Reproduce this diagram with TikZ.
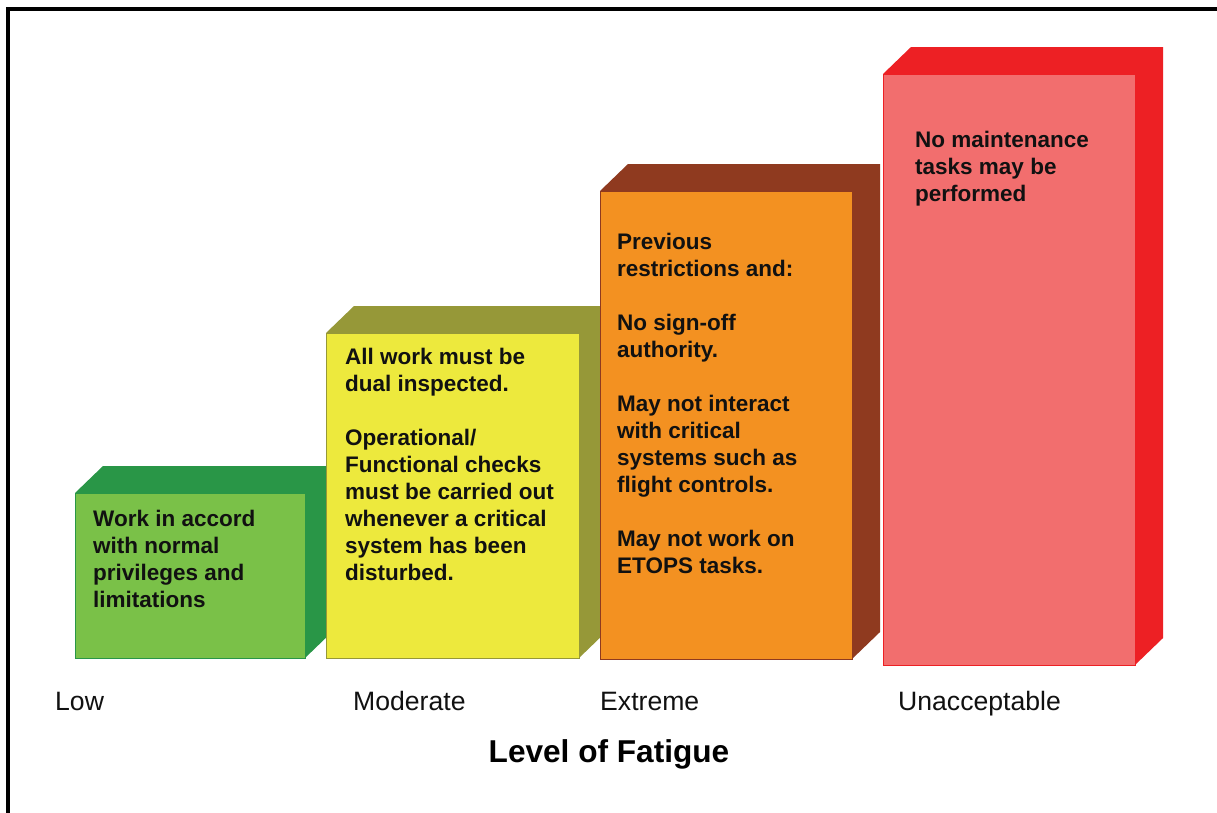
\documentclass[tikz,border=0pt]{standalone}
\usepackage{fontspec}
\setmainfont{Liberation Sans}
\definecolor{gfront}{RGB}{122,193,72}
\definecolor{gside}{RGB}{41,150,71}
\definecolor{yfront}{RGB}{237,233,61}
\definecolor{yside}{RGB}{150,152,56}
\definecolor{ofront}{RGB}{243,145,33}
\definecolor{oside}{RGB}{143,58,31}
\definecolor{rfront}{RGB}{242,110,110}
\definecolor{rside}{RGB}{237,32,36}
\definecolor{txt}{RGB}{17,17,17}
\newcommand\fbar[6]{%
  \fill[#6] (#1,#2) -- (#1+28,#2-27) -- (#3+28,#2-27) -- (#3+28,#4-27) -- (#3,#4) -- (#3,#2) -- cycle;
  \filldraw[fill=#5, draw=#6, line width=1] (#1,#2) rectangle (#3,#4);}
\tikzset{
  bartext/.style={anchor=north west, inner sep=0pt, align=left, text=txt,
    font=\bfseries\fontsize{22.5}{27}\selectfont},
  levellabel/.style={anchor=base west, inner sep=0pt, text=txt,
    font=\fontsize{26.6}{30}\selectfont},
  axistitle/.style={anchor=base, inner sep=0pt, text=black,
    font=\bfseries\fontsize{31.6}{36}\selectfont}
}
\begin{document}
\begin{tikzpicture}[x=1pt,y=-1pt]
\useasboundingbox (0,0) rectangle (1217,812);
\fill[white] (0,0) rectangle (1217,812);
\draw[line width=3.2] (8,820) -- (8,9) -- (1225,9);
% bars
\fbar{75}{493}{305}{658}{gfront}{gside}
\fbar{326}{333}{579}{658}{yfront}{yside}
\fbar{600}{191}{852}{659}{ofront}{oside}
\fbar{883}{74}{1135}{665}{rfront}{rside}
% texts
\node[bartext] (tlow) at (93,510) {Work in accord\\with normal\\privileges and\\limitations};
\node[bartext] (tmod) at (345,348) {All work must be\\dual inspected.\\~\\Operational/\\Functional checks\\must be carried out\\whenever a critical\\system has been\\disturbed.};
\node[bartext] (text) at (617,233) {Previous\\restrictions and:\\~\\No sign-off\\authority.\\~\\May not interact\\with critical\\systems such as\\flight controls.\\~\\May not work on\\ETOPS tasks.};
\node[bartext] (tuna) at (915,131) {No maintenance\\tasks may be\\performed};
% labels
\node[levellabel] (llow) at (55,710) {Low};
\node[levellabel] (lmod) at (353,710) {Moderate};
\node[levellabel] (lext) at (600,710) {Extreme};
\node[levellabel] (luna) at (898,710) {Unacceptable};
\node[axistitle] (title) at (609,762) {Level of Fatigue};
\end{tikzpicture}
\end{document}
